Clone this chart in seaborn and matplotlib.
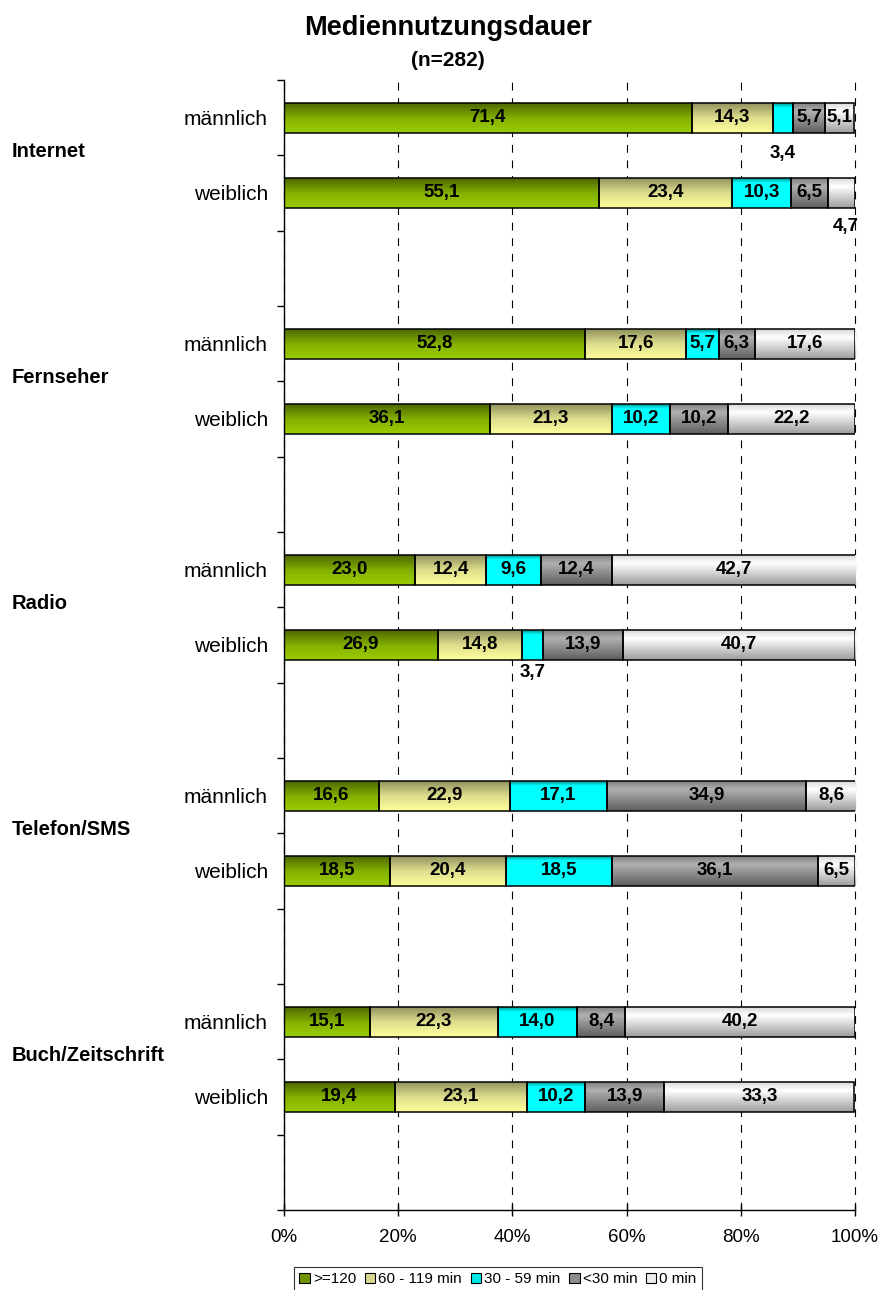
import numpy as np
import pandas as pd
import matplotlib
matplotlib.use("Agg")
import matplotlib.pyplot as plt
import seaborn as sns
from matplotlib.colors import LinearSegmentedColormap
from matplotlib.patches import Patch
from matplotlib.transforms import blended_transform_factory

# ---- data -----------------------------------------------------------------
medien = ["Internet", "Fernseher", "Radio", "Telefon/SMS", "Buch/Zeitschrift"]
geschlecht = ["männlich", "weiblich"]
dauer = [">=120", "60 - 119 min", "30 - 59 min", "<30 min", "0 min"]

# one value per bar, in order: Internet m/w, Fernseher m/w, Radio m/w, Telefon m/w, Buch m/w
werte_120 = [71.4, 55.1, 52.8, 36.1, 23.0, 26.9, 16.6, 18.5, 15.1, 19.4]
werte_60 = [14.3, 23.4, 17.6, 21.3, 12.4, 14.8, 22.9, 20.4, 22.3, 23.1]
werte_30 = [3.4, 10.3, 5.7, 10.2, 9.6, 3.7, 17.1, 18.5, 14.0, 10.2]
werte_u30 = [5.7, 6.5, 6.3, 10.2, 12.4, 13.9, 34.9, 36.1, 8.4, 13.9]
werte_0 = [5.1, 4.7, 17.6, 22.2, 42.7, 40.7, 8.6, 6.5, 40.2, 33.3]
serien = [werte_120, werte_60, werte_30, werte_u30, werte_0]

x_ticks = [0, 20, 40, 60, 80, 100]
x_labels = ["0%", "20%", "40%", "60%", "80%", "100%"]

# ---- styling ---------------------------------------------------------------
verlauf = [
    [(0.0, "#4a6300"), (0.55, "#86b300"), (1.0, "#9acc00")],
    [(0.0, "#8c8c5c"), (0.5, "#dcdc8c"), (1.0, "#ffff9c")],
    [(0.0, "#007a7a"), (0.18, "#00ffff"), (1.0, "#00ffff")],
    [(0.0, "#7a7a7a"), (0.3, "#b0b0b0"), (1.0, "#5e5e5e")],
    [(0.0, "#d4d4d4"), (0.3, "#ffffff"), (1.0, "#9c9c9c")],
]
legend_farben = ["#6f9400", "#d8d890", "#00e8e8", "#8c8c8c", "#ececec"]

sns.set_style("white")
plt.rcParams["font.family"] = ["Liberation Sans", "DejaVu Sans"]
plt.rcParams["text.color"] = "black"
plt.rcParams["xtick.labelcolor"] = "black"
plt.rcParams["ytick.labelcolor"] = "black"

# category slots: two bars per medium plus one empty slot as spacer
slot_order = []
bar_slots = []
for m in medien:
    for g in geschlecht:
        slot_order.append(f"{m} · {g}")
        bar_slots.append(f"{m} · {g}")
    slot_order.append(f"{m} · ")
bar_pos = [slot_order.index(s) for s in bar_slots]

fig = plt.figure(figsize=(8.82, 12.9), dpi=100)
ax = fig.add_axes([284 / 882, 1 - 1210 / 1290, (855 - 284) / 882, (1210 - 80) / 1290])


def gradient_fill(axis, patch, stops, z):
    x0, y0 = patch.get_x(), patch.get_y()
    w, h = patch.get_width(), patch.get_height()
    cmap = LinearSegmentedColormap.from_list("verlauf", stops)
    grad = np.linspace(0, 1, 256).reshape(-1, 1)
    im = axis.imshow(grad, cmap=cmap, aspect="auto", origin="upper",
                     extent=(x0, x0 + w, y0 + h, y0), zorder=z,
                     interpolation="bilinear")
    im.set_clip_path(patch)
    patch.set_facecolor("none")
    patch.set_zorder(z + 1)


links = np.zeros(len(bar_slots))
for k, (name, vals) in enumerate(zip(dauer, serien)):
    df = pd.DataFrame({"slot": bar_slots, "wert": vals})
    n_vorher = len(ax.patches)
    sns.barplot(data=df, x="wert", y="slot", order=slot_order, orient="y",
                color=legend_farben[k], width=0.4, errorbar=None,
                left=links.copy(), edgecolor="black", linewidth=1.1, ax=ax)
    for p in ax.patches[n_vorher:]:
        gradient_fill(ax, p, verlauf[k], 2)
    links = links + np.array(vals)

# ---- value labels ------------------------------------------------------------
sonder = {(0, 2): (0.0, 0.47), (1, 4): (0.8, 0.45), (5, 2): (0.0, 0.37)}
links = np.zeros(len(bar_slots))
for k, vals in enumerate(serien):
    for i, v in enumerate(vals):
        x = links[i] + v / 2
        y = bar_pos[i]
        dx, dy = sonder.get((i, k), (0.0, 0.0))
        ax.text(x + dx, y + dy, f"{v:.1f}".replace(".", ","), ha="center",
                va="center", fontsize=13.5, fontweight="bold", color="black",
                zorder=5)
    links = links + np.array(vals)

# ---- axes ----------------------------------------------------------------------
ax.set_xlim(0, 100)
ax.set_ylim(len(slot_order) - 0.5, -0.5)
ax.set_xlabel("")
ax.set_ylabel("")
ax.set_xticks(x_ticks, labels=x_labels)
ax.set_yticks(bar_pos, labels=[geschlecht[i % 2] for i in range(len(bar_slots))])
ax.set_yticks(np.arange(-0.5, len(slot_order), 1), minor=True)
ax.tick_params(axis="y", which="major", length=0, pad=11.5, labelsize=15)
ax.tick_params(axis="y", which="minor", length=5, width=1, direction="out",
               color="black", left=True)
ax.tick_params(axis="x", which="major", length=8, width=1, direction="inout",
               color="black", labelsize=13.5, pad=10, bottom=True)
ax.xaxis.grid(True, color="black", linestyle=(0, (7, 7)), linewidth=0.8)
ax.yaxis.grid(False)
ax.set_axisbelow(True)
for line in ax.get_xgridlines():
    line.set_clip_on(False)
for side in ["top", "right"]:
    ax.spines[side].set_visible(False)
for side in ["left", "bottom"]:
    ax.spines[side].set_color("black")
    ax.spines[side].set_linewidth(1.0)

# medium names at the left edge
trans = blended_transform_factory(fig.transFigure, ax.transData)
for j, m in enumerate(medien):
    ax.text(12 / 882, 3 * j + 0.45, m, transform=trans, ha="left", va="center",
            fontsize=14.5, fontweight="bold", color="black")

fig.text(448 / 882, 1 - 28 / 1290, "Mediennutzungsdauer", ha="center",
         va="center", fontsize=19.5, fontweight="bold", color="black")
fig.text(448 / 882, 1 - 60 / 1290, "(n=282)", ha="center", va="center",
         fontsize=15, fontweight="bold", color="black")

handles = [Patch(facecolor=c, edgecolor="black", linewidth=0.8) for c in legend_farben]
leg = fig.legend(handles, dauer, loc="upper left",
                 bbox_to_anchor=(294 / 882, 1 - 1267 / 1290), ncol=5,
                 frameon=True, fancybox=False, edgecolor="black", fontsize=11,
                 handlelength=0.7, handleheight=0.7, handletextpad=0.2,
                 columnspacing=0.55, borderpad=0.35, borderaxespad=0)
leg.get_frame().set_linewidth(0.8)

fig.savefig("out.png", dpi=100)
